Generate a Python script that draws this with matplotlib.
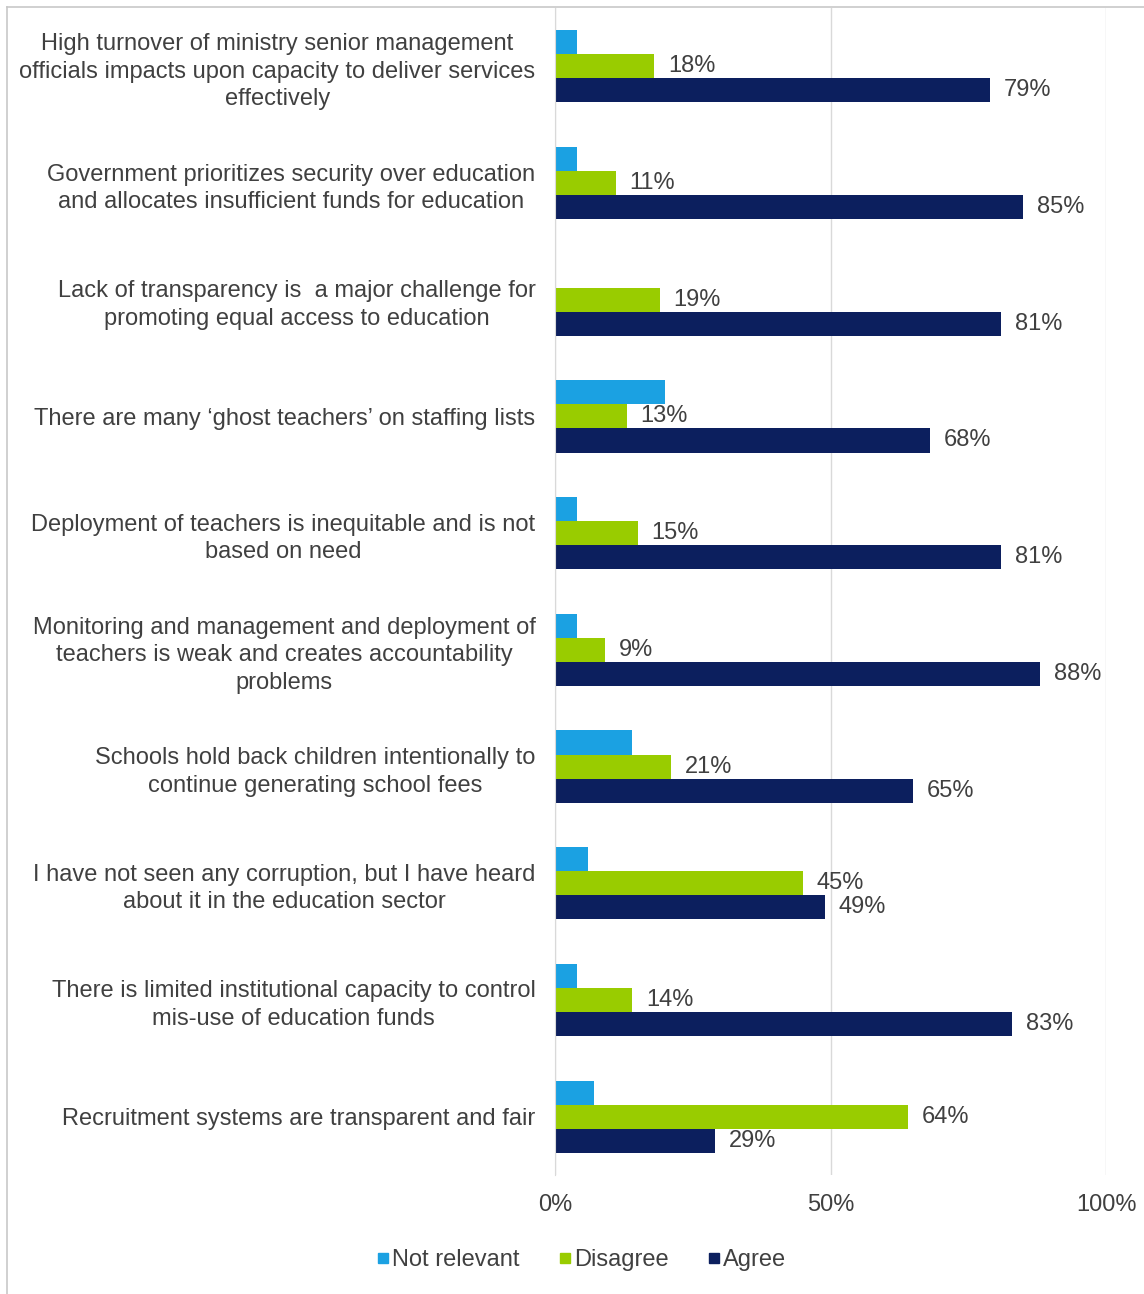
import matplotlib.pyplot as plt
import numpy as np
from matplotlib.lines import Line2D

plt.rcParams['font.family'] = ['Liberation Sans', 'DejaVu Sans']

statements = [
    "High turnover of ministry senior management\nofficials impacts upon capacity to deliver services\neffectively",
    "Government prioritizes security over education\nand allocates insufficient funds for education",
    "Lack of transparency is  a major challenge for\npromoting equal access to education",
    "There are many \u2018ghost teachers\u2019 on staffing lists",
    "Deployment of teachers is inequitable and is not\nbased on need",
    "Monitoring and management and deployment of\nteachers is weak and creates accountability\nproblems",
    "Schools hold back children intentionally to\ncontinue generating school fees",
    "I have not seen any corruption, but I have heard\nabout it in the education sector",
    "There is limited institutional capacity to control\nmis-use of education funds",
    "Recruitment systems are transparent and fair",
]
not_relevant = [4, 4, 0, 20, 4, 4, 14, 6, 4, 7]
disagree = [18, 11, 19, 13, 15, 9, 21, 45, 14, 64]
agree = [79, 85, 81, 68, 81, 88, 65, 49, 83, 29]

c_nr = '#1ba1e2'
c_dis = '#99cc00'
c_agr = '#0c1f5e'
txt = '#404040'
fs = 17

fig = plt.figure(figsize=(11.44, 12.94), dpi=100)
ax = fig.add_axes([555 / 1144, 1 - 1175 / 1294, (1106 - 555) / 1144, (1175 - 8) / 1294])

y = np.arange(len(statements))
h = 0.206
ax.barh(y - h, not_relevant, height=h, color=c_nr, label='Not relevant')
b_dis = ax.barh(y, disagree, height=h, color=c_dis, label='Disagree')
b_agr = ax.barh(y + h, agree, height=h, color=c_agr, label='Agree')
ax.bar_label(b_dis, labels=[f'{v}%' for v in disagree], padding=10, fontsize=fs, color=txt)
ax.bar_label(b_agr, labels=[f'{v}%' for v in agree], padding=10, fontsize=fs, color=txt)

ax.set_xlim(0, 100)
ax.set_ylim(len(statements) - 0.5, -0.5)
ax.set_xticks([0, 50, 100])
ax.set_xticklabels(['0%', '50%', '100%'], fontsize=fs, color=txt)
ax.set_yticks(y)
ax.set_yticklabels(statements, fontsize=fs, color=txt, multialignment='center', linespacing=1.33)
ax.tick_params(length=0)
ax.tick_params(axis='y', pad=14)
ax.tick_params(axis='x', pad=14)
ax.grid(True, axis='x', color='#d9d9d9', linewidth=1)
ax.set_axisbelow(True)
for s in ['top', 'right', 'bottom']:
    ax.spines[s].set_visible(False)
ax.spines['left'].set_color('#d9d9d9')

# outer frame of the chart area
fig.add_artist(Line2D([7 / 1144, 7 / 1144], [0, 1 - 7 / 1294], color='#c8c8c8', lw=1.2))
fig.add_artist(Line2D([7 / 1144, 1], [1 - 7 / 1294, 1 - 7 / 1294], color='#c8c8c8', lw=1.2))

handles = [Line2D([], [], marker='s', ls='', color=c, markersize=7) for c in (c_nr, c_dis, c_agr)]
fig.legend(handles, ['Not relevant', 'Disagree', 'Agree'], loc='center', bbox_to_anchor=(0.508, 0.026),
           ncol=3, frameon=False, fontsize=fs, labelcolor=txt, handlelength=0.6,
           handletextpad=0.1, columnspacing=1.6)

fig.savefig('out.png', dpi=100, facecolor='white')
